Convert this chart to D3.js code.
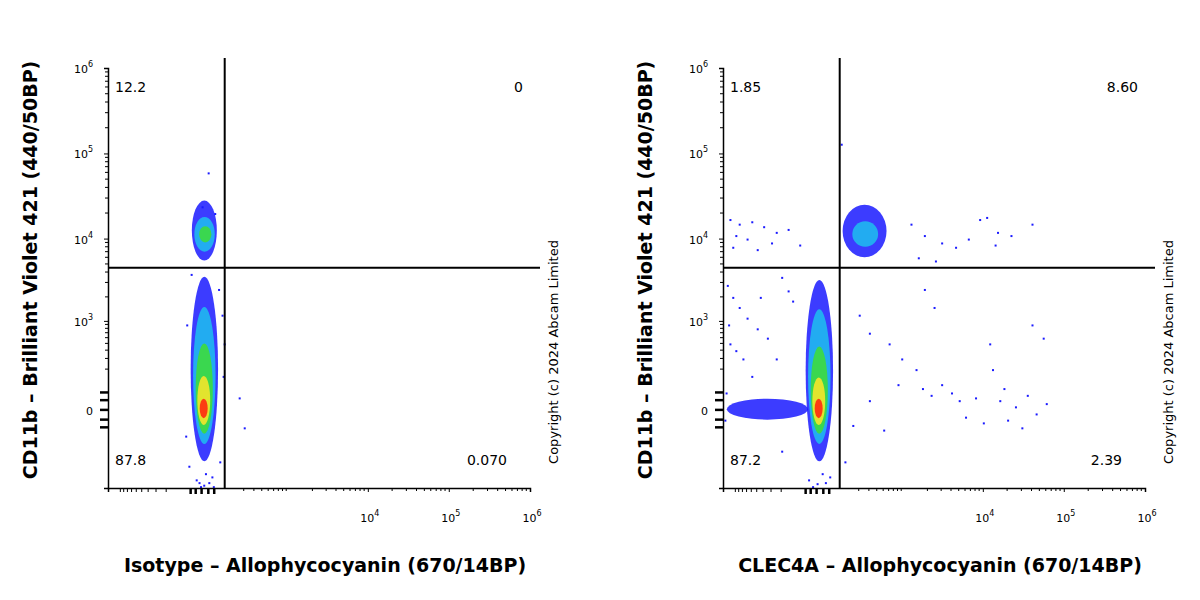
<!DOCTYPE html>
<html><head><meta charset="utf-8">
<script src="https://cdn.jsdelivr.net/npm/d3@7"></script>
<style>body{margin:0;background:#fff}text{font-family:"DejaVu Sans",Verdana,sans-serif}</style>
</head><body><svg id="c" width="1200" height="600"></svg>
<script>
// ---- data ----
const panelTitlesX = ["Isotype – Allophycocyanin (670/14BP)", "CLEC4A – Allophycocyanin (670/14BP)"];
const titleY = "CD11b – Brilliant Violet 421  (440/50BP)";
const quadLeft = ["12.2", "0", "87.8", "0.070"];
const quadRight = ["1.85", "8.60", "87.2", "2.39"];
const gateX = [75, 75];
const gateY = [4500, 4500];
const yTicks = [0, 1e3, 1e4, 1e5, 1e6];
const xTicks = [1e4, 1e5, 1e6];
const layerColors = ["#1a1aff", "#1fb8f0", "#3ddc3d", "#f5e52a", "#ff2a10"];
// density layers: [x0,x1,y0,y1] per colour level
const blobsLeft = [
  [[-50,45,-300,3500],[-45,40,5500,28000]],
  [[-40,35,-150,1500],[-35,32,7000,18000]],
  [[-30,25,-90,500],[-18,20,9000,14000]],
  [[-24,16,-50,150]],
  [[-16,8,-25,35]]
];
const blobsRight = [
  [[-50,45,-300,3200],[90,560,6000,25000],[-1300,-40,-30,35]],
  [[-40,35,-150,1400],[150,420,8000,16000]],
  [[-30,25,-90,450]],
  [[-24,16,-50,140]],
  [[-16,8,-25,35]]
];
const dotsLeft = [[8,60000],[-10,24000],[30,20000],[-50,3800],[45,2500],[60,1200],[-70,900],[70,500],[65,150],[-75,-100],[160,40],[200,-60],[-20,-600],[-5,-650],[10,-600],[-30,-550],[20,-500],[0,-450],[50,-300],[-60,-350],[-15,-680],[25,-680]];
const dotsRight = [[80,130000],[-1200,17000],[-900,15000],[-600,16000],[-400,14000],[-250,12000],[-1000,11000],[-700,10000],[-300,9000],[-150,13000],[-1100,8000],[-500,7500],[-80,8500],[1200,15000],[1800,11000],[3000,9000],[4500,8000],[6500,10000],[9000,17000],[11000,18000],[15000,12000],[14000,8500],[22000,11000],[40000,15000],[1500,6000],[2500,5500],
[-1300,2800],[-1100,2000],[-900,1500],[-1250,900],[-700,1100],[-500,800],[-350,600],[-1000,400],[-800,300],[-600,150],[-1200,500],[-250,300],[-450,2000],[-200,3500],[-150,2400],[-120,1800],
[200,1200],[300,700],[600,500],[900,300],[1800,2500],[2400,1500],[1400,200],[1700,80],[2200,50],[3000,100],[4000,60],[5000,30],[6000,-20],[8000,40],[10000,-40],[12000,500],[13000,200],[16000,30],[20000,-30],[25000,10],[35000,50],[40000,900],[45000,-10],[55000,600],[60000,20],[30000,-60],[18000,80],
[150,-50],[300,30],[500,-70],[800,100],[-1400,-30],[-1350,60],[-200,-200],[100,-300],[-40,-550],[-10,-620],[15,-600],[30,-500],[-25,-680],[5,-450]];

// ---- drawing ----
const svg = d3.select("#c");
function panel(ox, xTitle, quad, blobs, dots, gx, gy) {
  const x = d3.scaleSymlog().constant(100).domain([-1460, 1e6]).range([ox + 108, ox + 530]);
  const y = d3.scaleSymlog().constant(100).domain([-720, 1e6]).range([488, 68]);
  const g = svg.append("g");
  blobs.forEach((lv, i) => {
    lv.forEach(b => {
      const x0 = x(b[0]), x1 = x(b[1]), y0 = y(b[2]), y1 = y(b[3]);
      g.append("ellipse").attr("cx", (x0 + x1) / 2).attr("cy", (y0 + y1) / 2)
        .attr("rx", Math.abs(x1 - x0) / 2).attr("ry", Math.abs(y1 - y0) / 2)
        .attr("fill", layerColors[i]).attr("opacity", i === 0 ? 0.85 : 0.9);
    });
  });
  g.selectAll("rect.d").data(dots).join("rect").attr("x", d => x(d[0])).attr("y", d => y(d[1]))
    .attr("width", 2).attr("height", 2).attr("fill", "#1a1aff");
  const ya = d3.axisLeft(y).tickValues(yTicks).tickSize(4).tickFormat(() => "");
  g.append("g").attr("transform", `translate(${ox + 108},0)`).call(ya).call(s => s.select(".domain").attr("stroke-width", 1.5));
  const xa = d3.axisBottom(x).tickValues(xTicks).tickSize(4).tickFormat(() => "");
  g.append("g").attr("transform", `translate(0,488)`).call(xa).call(s => s.select(".domain").attr("stroke-width", 1.5));
  const minors = [];
  [100, 1000, 10000, 100000].forEach(d => { for (let k = 2; k <= 9; k++) minors.push(d * k); });
  minors.forEach(v => {
    if (x(v) > ox + 230) g.append("line").attr("x1", x(v)).attr("x2", x(v)).attr("y1", 488).attr("y2", 491).attr("stroke", "#000");
    g.append("line").attr("x1", ox + 108).attr("x2", ox + 105).attr("y1", y(v)).attr("y2", y(v)).attr("stroke", "#000");
  });
  [-1000, -900, -800, -700, -600, -500, -400, -300, -200].forEach(v => {
    g.append("line").attr("x1", x(v)).attr("x2", x(v)).attr("y1", 488).attr("y2", 492).attr("stroke", "#000");
  });
  [-50, -30, -10, 10, 30].forEach(v => {
    g.append("line").attr("x1", x(v)).attr("x2", x(v)).attr("y1", 488).attr("y2", 494).attr("stroke", "#000").attr("stroke-width", 2.5);
  });
  [-60, -30, 0, 30, 60].forEach(v => {
    g.append("line").attr("x1", ox + 108).attr("x2", ox + 100).attr("y1", y(v)).attr("y2", y(v)).attr("stroke", "#000").attr("stroke-width", 2.5);
  });
  yTicks.forEach(v => {
    const t = g.append("text").attr("x", ox + 93).attr("y", y(v) + 5).attr("text-anchor", "end").attr("font-size", 11);
    if (v === 0) t.text("0");
    else { t.text("10"); t.append("tspan").attr("dy", -6).attr("font-size", 8).text(Math.round(Math.log10(v))); }
  });
  xTicks.forEach(v => {
    const t = g.append("text").attr("x", x(v) + 2).attr("y", 522).attr("text-anchor", "middle").attr("font-size", 11);
    t.text("10"); t.append("tspan").attr("dy", -6).attr("font-size", 8).text(Math.round(Math.log10(v)));
  });
  g.append("line").attr("x1", x(gx)).attr("x2", x(gx)).attr("y1", 58).attr("y2", 488).attr("stroke", "#000").attr("stroke-width", 2);
  g.append("line").attr("x1", ox + 108).attr("x2", ox + 540).attr("y1", y(gy)).attr("y2", y(gy)).attr("stroke", "#000").attr("stroke-width", 2);
  const q = [[ox + 115, 92, "start"], [ox + 523, 92, "end"], [ox + 115, 465, "start"], [ox + 507, 465, "end"]];
  q.forEach((p, i) => g.append("text").attr("x", p[0]).attr("y", p[1]).attr("text-anchor", p[2]).attr("font-size", 14).text(quad[i]));
  g.append("text").attr("x", ox + 325).attr("y", 572).attr("text-anchor", "middle").attr("font-size", 19).attr("font-weight", "bold").text(xTitle);
  g.append("text").attr("transform", `translate(${ox + 37},270) rotate(-90)`).attr("text-anchor", "middle").attr("font-size", 19).attr("font-weight", "bold").text(titleY);
  g.append("text").attr("transform", `translate(${ox + 558},352) rotate(-90)`).attr("text-anchor", "middle").attr("font-size", 13).text("Copyright (c) 2024 Abcam Limited");
}
panel(0, panelTitlesX[0], quadLeft, blobsLeft, dotsLeft, gateX[0], gateY[0]);
panel(615, panelTitlesX[1], quadRight, blobsRight, dotsRight, gateX[1], gateY[1]);
</script></body></html>
